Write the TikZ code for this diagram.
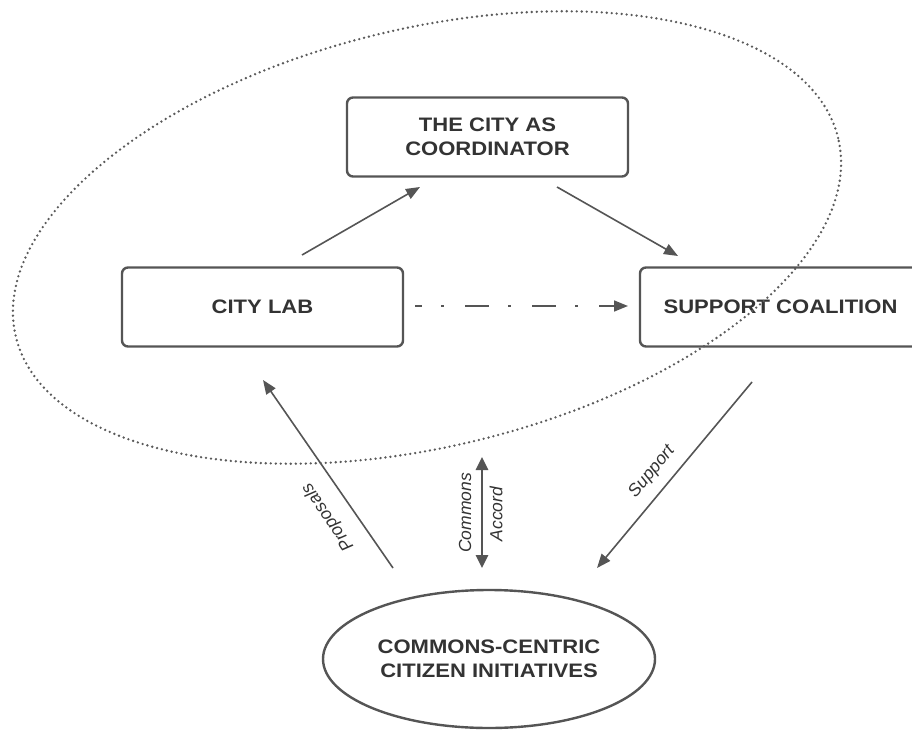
\documentclass[tikz,border=0pt]{standalone}
\usepackage{fontspec}
\setmainfont{Liberation Sans}
\newfontfamily\boxfont{Liberation Sans}[FakeStretch=1.13]
\usetikzlibrary{arrows.meta,shapes.geometric}
\definecolor{ink}{HTML}{333333}
\definecolor{edge}{HTML}{555555}
\definecolor{halo}{HTML}{5A5A5A}
\begin{document}
\begin{tikzpicture}[x=1pt,y=-1pt,
  boxtext/.style={text=ink, align=center, font=\boxfont\bfseries\fontsize{19.5}{24}\selectfont},
  stepbox/.style={boxtext, draw=edge, line width=2.4pt, rounded corners=6pt,
    minimum width=281pt, minimum height=79pt, inner sep=0pt},
  flow/.style={draw=edge, line width=1.6pt, -{Triangle[length=14pt,width=11pt]}},
  tag/.style={text=ink, inner sep=0pt, font=\itshape\fontsize{17.5}{20}\selectfont},
]
\useasboundingbox (0,0) rectangle (912,730);
\fill[white] (0,0) rectangle (912,730);
\clip (0,0) rectangle (912,730);

% boxes
\node[stepbox] (coord) at (487.5,137) {THE CITY AS\\COORDINATOR};
\node[stepbox] (lab)   at (262.5,307) {CITY LAB};
\node[stepbox] (coal)  at (780.5,307) {SUPPORT COALITION};
\node[boxtext, draw=edge, line width=2.4pt, ellipse, inner sep=0pt,
      minimum width=332pt, minimum height=138pt] (cci) at (489,659)
      {COMMONS-CENTRIC\\CITIZEN INITIATIVES};

% arrow end points
\coordinate (lab-n)    at (302,255);
\coordinate (coord-sw) at (420,187);
\coordinate (coord-se) at (557,187);
\coordinate (coal-n)   at (678,256);
\coordinate (lab-e)    at (415,306);
\coordinate (coal-w)   at (628,306);
\coordinate (cci-nw)   at (393,568);
\coordinate (lab-s)    at (263,380);
\coordinate (coal-s)   at (752,382);
\coordinate (cci-ne)   at (597,568);
\coordinate (acc-top)  at (482,457);
\coordinate (acc-bot)  at (482,568);

% connectors
\draw[flow] (lab-n) -- (coord-sw);
\draw[flow] (coord-se) -- (coal-n);
\draw[flow, dash pattern=on 24pt off 19pt on 3pt off 21pt, dash phase=17pt] (lab-e) -- (coal-w);
\draw[flow] (cci-nw) -- (lab-s);
\draw[flow] (coal-s) -- (cci-ne);
\draw[draw=edge, line width=2.8pt,
      {Triangle[length=13pt,width=12pt]}-{Triangle[length=13pt,width=12pt]}] (acc-top) -- (acc-bot);

% connector labels
\node[tag, rotate=124.7] (prop) at (328,517) {Proposals};
\node[tag, rotate=90]    (comm) at (465,513) {Commons};
\node[tag, rotate=90]    (acc)  at (496,514) {Accord};
\node[tag, rotate=50.2]  (sup)  at (652,472) {Support};

% dotted boundary around the city's own bodies
\node[draw=halo, ellipse, line width=2.6pt, line cap=round,
      dash pattern=on 0pt off 5pt, inner sep=0pt,
      minimum width=846pt, minimum height=418pt, rotate=13.6] (cityscope) at (427,237.5) {};
\end{tikzpicture}
\end{document}
